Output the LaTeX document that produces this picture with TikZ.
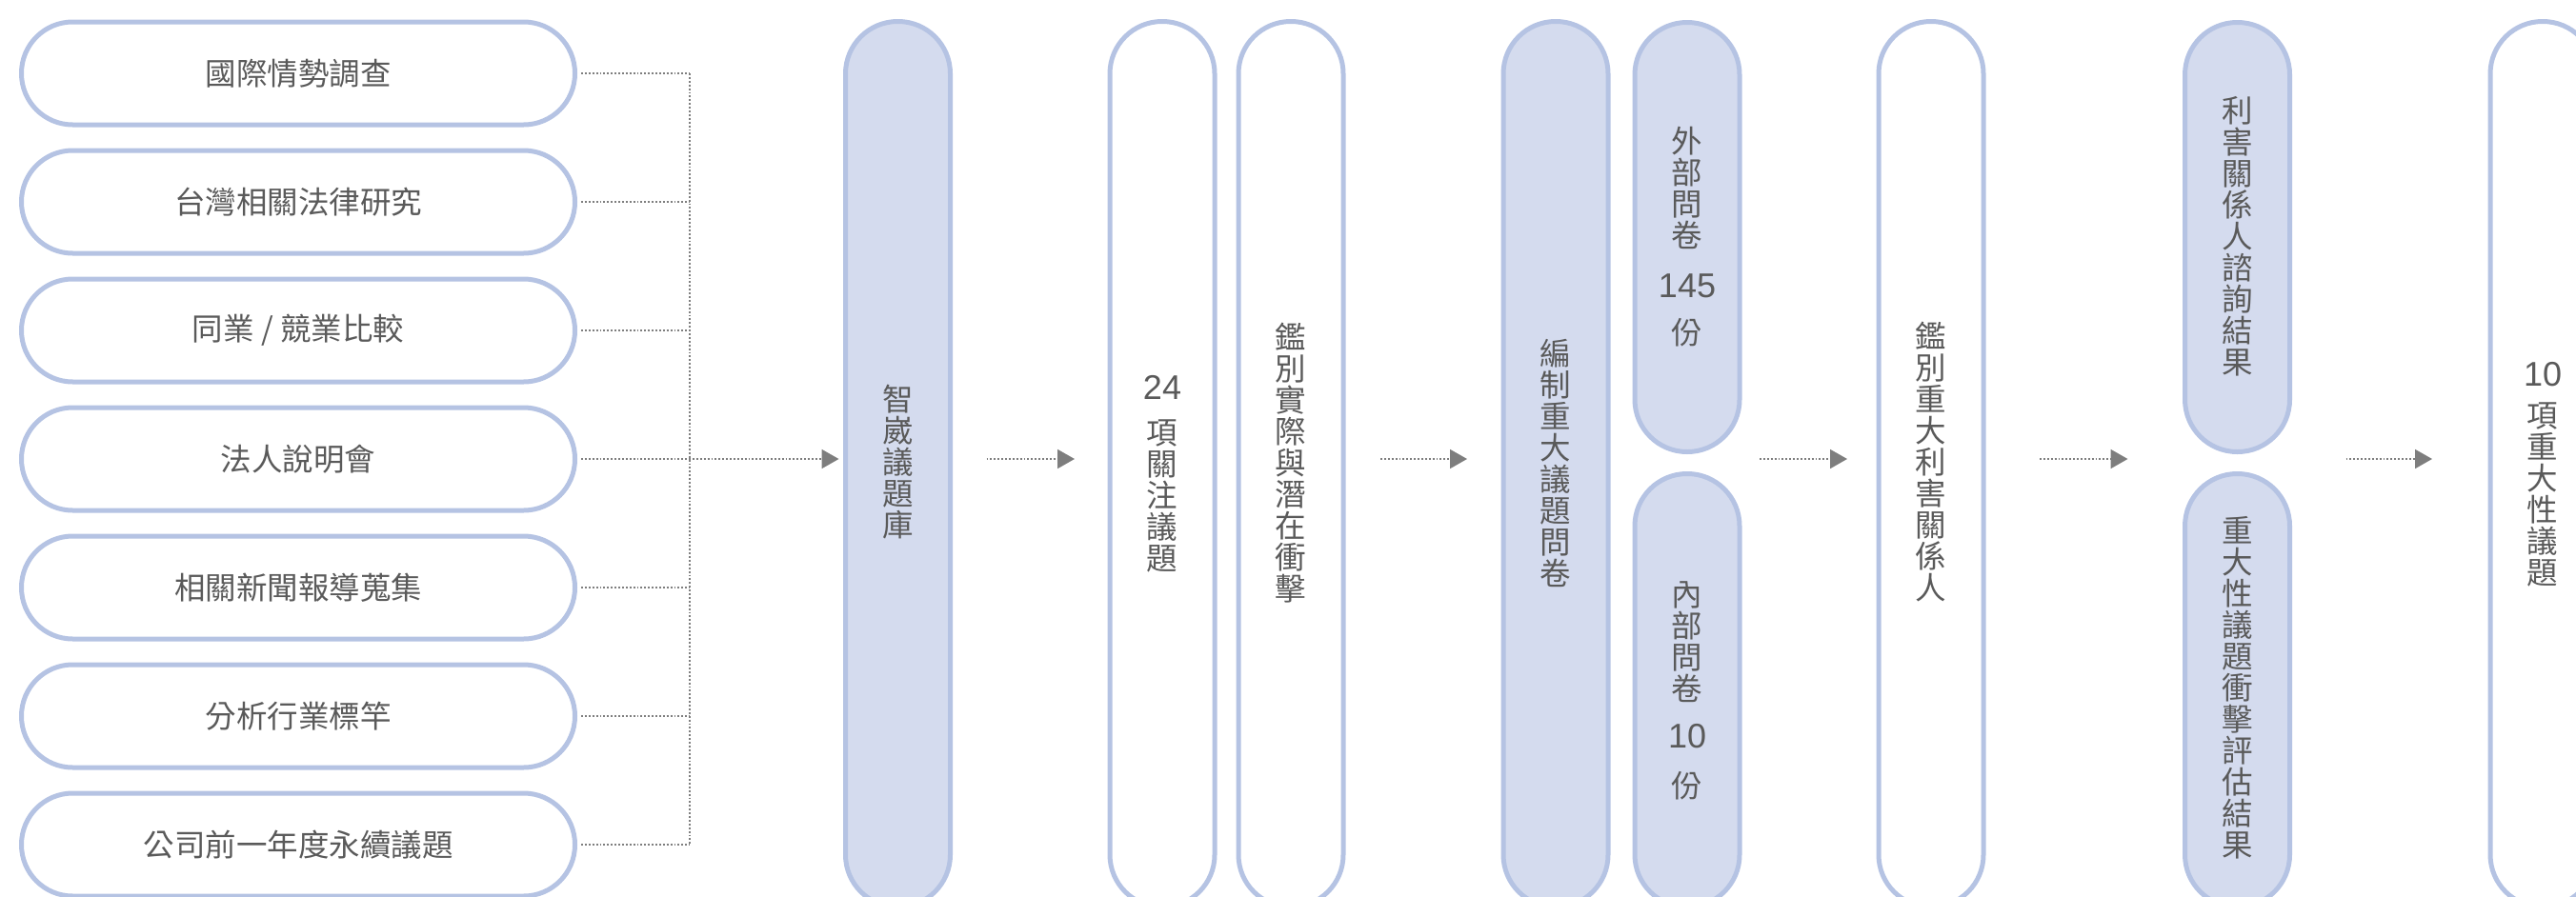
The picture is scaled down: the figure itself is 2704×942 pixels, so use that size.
\documentclass[tikz,border=0pt]{standalone}
\usepackage{fontspec}
\newfontfamily\cjkfont{Noto Sans CJK TC}
\newfontfamily\numfont{Liberation Sans}
\usetikzlibrary{arrows.meta}
\definecolor{pillborder}{HTML}{B5C3E3}
\definecolor{pillfill}{HTML}{D4DBEE}
\definecolor{txtgray}{HTML}{5A5A5A}
\definecolor{linegray}{HTML}{7E7E7E}
\newcommand{\dg}[1]{{\numfont\fontsize{18pt}{18pt}\selectfont #1}}
\begin{document}
\begin{tikzpicture}[x=0.5pt,y=-0.5pt,
  hpill/.style={draw=pillborder, line width=2.5pt, fill=white, rounded corners=26.9pt,
    minimum width=290.5pt, minimum height=54pt, inner sep=0pt,
    font=\cjkfont\fontsize{16.25pt}{16.5pt}\selectfont, text=txtgray},
  vpill/.style={draw=pillborder, line width=2.5pt, rounded corners=27.4pt,
    minimum width=55pt, inner sep=0pt},
  whitepill/.style={vpill, fill=white},
  bluepill/.style={vpill, fill=pillfill},
  fullpill/.style={minimum height=465pt},
  upperpill/.style={minimum height=225.5pt},
  lowerpill/.style={minimum height=227.5pt},
  vtxt/.style={align=center, inner sep=0pt, text=txtgray,
    font=\cjkfont\fontsize{16.25pt}{16.5pt}\selectfont},
  dotline/.style={draw=linegray, line width=0.9pt, dash pattern=on 0.95pt off 1pt},
  flow/.style={dotline, -{Triangle[length=9pt,width=10pt]}},
]
\useasboundingbox (0,0) rectangle (2704,942);
\clip (0,0) rectangle (2704,942);

% left column
\node[hpill] (L1) at (313,77)  {國際情勢調查};
\node[hpill] (L2) at (313,212) {台灣相關法律研究};
\node[hpill] (L3) at (313,347) {同業 / 競業比較};
\node[hpill] (L4) at (313,482) {法人說明會};
\node[hpill] (L5) at (313,617) {相關新聞報導蒐集};
\node[hpill] (L6) at (313,752) {分析行業標竿};
\node[hpill] (L7) at (313,887) {公司前一年度永續議題};

% vertical pills
\node[bluepill, fullpill]   (A) at (942.5,487.5) {};
\node[whitepill, fullpill]  (B) at (1220,487.5) {};
\node[whitepill, fullpill]  (C) at (1355,487.5) {};
\node[bluepill, fullpill]   (D) at (1633,487.5) {};
\node[bluepill, upperpill]  (E) at (1771,249) {};
\node[bluepill, lowerpill]  (F) at (1771,725) {};
\node[whitepill, fullpill]  (G) at (2027,487.5) {};
\node[bluepill, upperpill]  (H) at (2348.5,249) {};
\node[bluepill, lowerpill]  (I) at (2348.5,725) {};
\node[whitepill, fullpill]  (J) at (2669,487.5) {};

% vertical texts
\node[vtxt] (tA) at (942.5,485.5) {智\\崴\\議\\題\\庫};
\node[vtxt] (tB) at (1220,497.5) {\dg{24}\\[7pt]項\\關\\注\\議\\題};
\node[vtxt] (tC) at (1355,486) {鑑\\別\\實\\際\\與\\潛\\在\\衝\\擊};
\node[vtxt] (tD) at (1633,486.5) {編\\制\\重\\大\\議\\題\\問\\卷};
\node[vtxt] (tE) at (1771,249) {外\\部\\問\\卷\\[10pt]\dg{145}\\[8pt]份};
\node[vtxt] (tF) at (1771,725.5) {內\\部\\問\\卷\\[8.5pt]\dg{10}\\[9.5pt]份};
\node[vtxt] (tG) at (2027,485) {鑑\\別\\重\\大\\利\\害\\關\\係\\人};
\node[vtxt] (tH) at (2348.5,248) {利\\害\\關\\係\\人\\諮\\詢\\結\\果};
\node[vtxt] (tI) at (2348.5,722) {重\\大\\性\\議\\題\\衝\\擊\\評\\估\\結\\果};
\node[vtxt] (tJ) at (2669,498) {\dg{10}\\[5pt]項\\重\\大\\性\\議\\題};

% connectors
\coordinate (bus) at (724,0);
\coordinate (lvl) at (0,482);
\foreach \n in {L1,L2,L3,L5,L6,L7}
  \draw[dotline, shorten <=2pt] (\n.east) -- (\n.east -| bus);
\draw[dotline] (L1.east -| bus) -- (L7.east -| bus);
\draw[flow, shorten <=2pt, shorten >=2.25pt] (L4.east) -- (A.west |- L4.east);
\draw[flow, shorten <=17.75pt, shorten >=17.25pt] (A.east |- lvl) -- (B.west |- lvl);
\draw[flow, shorten <=18.25pt, shorten >=17.75pt] (C.east |- lvl) -- (D.west |- lvl);
\draw[flow, shorten <=9.25pt, shorten >=15.25pt] (E.east |- lvl) -- (G.west |- lvl);
\draw[flow, shorten <=28.25pt, shorten >=28.75pt] (G.east |- lvl) -- (H.west |- lvl);
\draw[flow, shorten <=28.25pt, shorten >=29.25pt] (H.east |- lvl) -- (J.west |- lvl);
\end{tikzpicture}
\end{document}
